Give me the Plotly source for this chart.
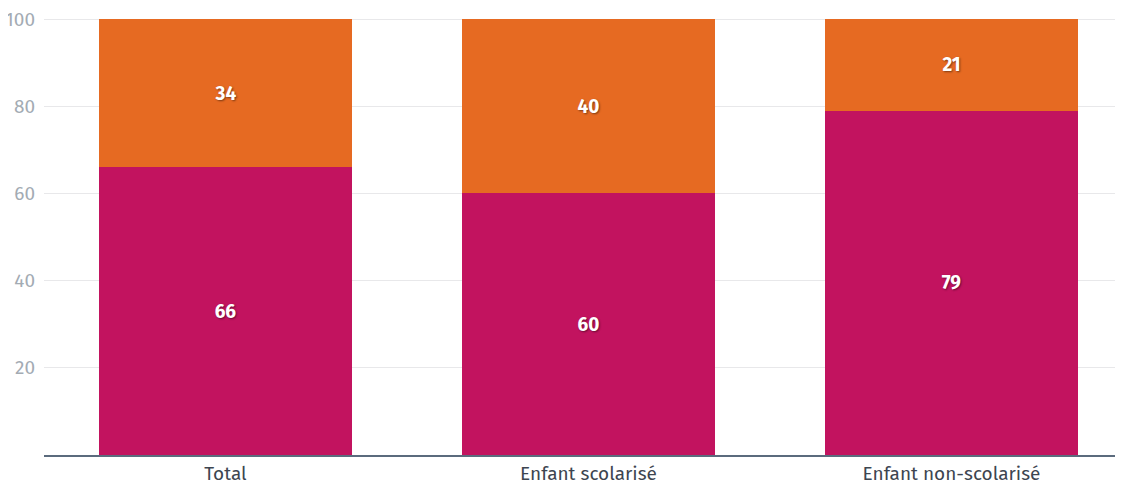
import plotly.graph_objects as go

categories = ["Total", "Enfant scolarisé", "Enfant non-scolarisé"]
series_bottom = [66, 60, 79]
series_top = [34, 40, 21]
y_ticks = [20, 40, 60, 80, 100]

MAGENTA = "#C2135F"
ORANGE = "#E66A22"
FONT = "Fira Sans, Open Sans, Noto Sans, sans-serif"

fig = go.Figure()
for vals, col in [(series_bottom, MAGENTA), (series_top, ORANGE)]:
    fig.add_trace(go.Bar(
        x=categories, y=vals, marker=dict(color=col, line=dict(width=0)),
        width=0.697, text=[str(v) for v in vals], textposition="inside",
        insidetextanchor="middle",
        textfont=dict(color="white", size=19, family=FONT, weight="bold",
                      shadow="1px 1px 2px rgba(0,0,0,0.45)"),
        hoverinfo="skip", showlegend=False,
    ))

fig.update_layout(
    barmode="stack",
    width=1115, height=474,
    margin=dict(l=36, r=0, t=10, b=27),
    paper_bgcolor="white", plot_bgcolor="white",
    font=dict(family=FONT),
    xaxis=dict(
        range=[-0.5, 2.4725], showgrid=False, ticks="",
        showline=True, linecolor="#5B6B7D", linewidth=1.5,
        tickfont=dict(size=19, color="#3D4550", family=FONT),
        fixedrange=True, ticklabelstandoff=0, automargin=False,
        ticklabeloverflow="allow",
    ),
    yaxis=dict(
        range=[0, 100.25], tickvals=y_ticks, showgrid=True,
        gridcolor="#E8E8EA", gridwidth=1, zeroline=False,
        tickfont=dict(size=19, color="#A3ABB3", family=FONT),
        ticks="", ticklabelstandoff=8, automargin=False,
        ticklabeloverflow="allow",
    ),
)

fig.write_html("out.html")
